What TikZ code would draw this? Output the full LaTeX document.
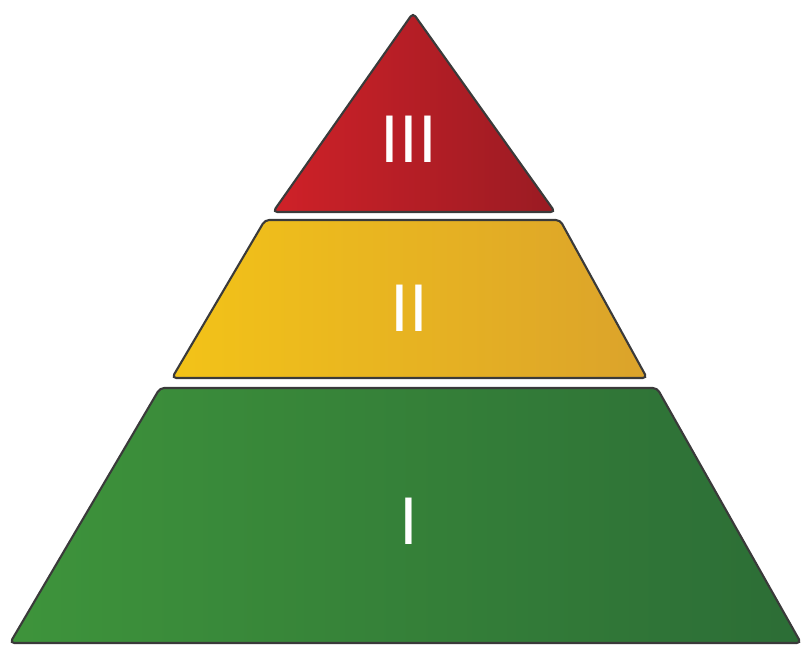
\documentclass[tikz,border=0pt]{standalone}
\usepackage{fontspec}
\newfontfamily\numfont{Liberation Sans}
\definecolor{redL}{HTML}{CF2128}
\definecolor{redR}{HTML}{9A1B23}
\definecolor{yelL}{HTML}{F3C318}
\definecolor{yelR}{HTML}{DBA32B}
\definecolor{grnL}{HTML}{3E943B}
\definecolor{grnR}{HTML}{2C6D36}
\definecolor{edge}{HTML}{3A3A3A}
\begin{document}
\begin{tikzpicture}[
  x=0.025cm, y=-0.025cm,
  layer/.style={draw=edge, line width=1.5pt, rounded corners=3pt},
  numeral/.style={text=white, inner sep=0pt, font=\numfont\fontsize{48}{48}\selectfont},
]
  \useasboundingbox (0,0) rectangle (807,648);

  % Layers
  \draw[layer, left color=redL, right color=redR]
    (413,13) -- (555,212) -- (273,212) -- cycle;
  \draw[layer, left color=yelL, right color=yelR]
    (265,220) -- (560,220) -- (647,378) -- (172,378) -- cycle;
  \draw[layer, left color=grnL, right color=grnR]
    (160,388) -- (657,388) -- (801,643) -- (10,643) -- cycle;

  % Numerals
  \node[numeral] (top) at (409,139) {III};
  \node[numeral] (mid) at (409,308) {II};
  \node[numeral] (base) at (409,521) {I};
\end{tikzpicture}
\end{document}
